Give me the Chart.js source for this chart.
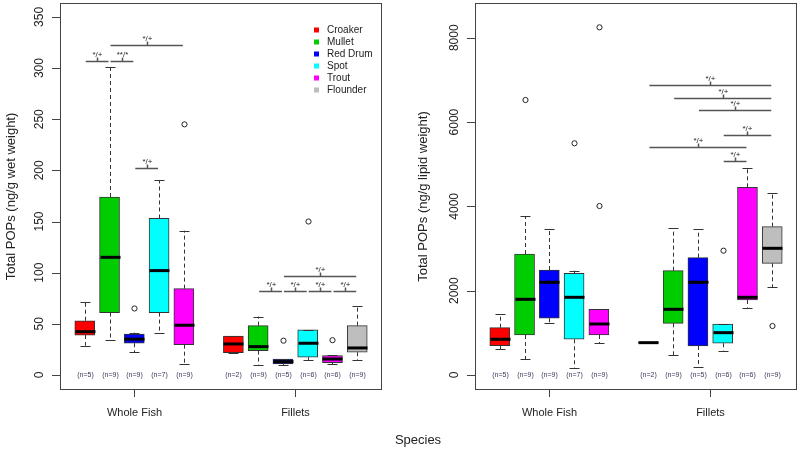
<!DOCTYPE html>
<html>
<head>
<meta charset="utf-8">
<script src="https://cdn.jsdelivr.net/npm/chart.js@4/dist/chart.umd.min.js"></script>
<style>
  html, body { margin: 0; padding: 0; background: #fff; }
  #wrap { position: relative; width: 800px; height: 453px; overflow: hidden; }
  #wrap canvas { position: absolute; top: 0; }
  #cWet { left: 0; }
  #cLip { left: 400px; }
  #species { position: absolute; left: 368px; width: 100px; top: 432px; text-align: center;
    font: 13px "Liberation Sans", Arial, sans-serif; color: #222; }
</style>
</head>
<body>
<div id="wrap">
  <canvas id="cWet" width="400" height="453"></canvas>
  <canvas id="cLip" width="400" height="453"></canvas>
  <div id="species">Species</div>
</div>
<script>
// ---- data ----
const species = ['Croaker', 'Mullet', 'Red Drum', 'Spot', 'Trout', 'Flounder'];
const speciesColors = ['#ff0000', '#00cd00', '#0000ff', '#00ffff', '#ff00ff', '#bebebe'];
const groups = ['Whole Fish', 'Fillets'];
const groupSlots = [3, 9.5];

// box positions (slot 6 is the gap between groups) and which species sits there
const slots = [1, 2, 3, 4, 5, 7, 8, 9, 10, 11, 12];
const slotSpecies = [0, 1, 2, 3, 4, 0, 1, 2, 3, 4, 5];
const nCounts = [5, 9, 9, 7, 9, 2, 9, 5, 6, 6, 9];

// wet weight (ng/g)
const wetTicks = [0, 50, 100, 150, 200, 250, 300, 350];
const wetLow  = [28.6, 34, 22, 40.7, 10.4, 21.8, 9.8, 9.8, 14.7, 10.4, 14.7];
const wetQ1   = [39, 61, 31, 61, 29.6, 21.8, 23.8, 10.7, 17.3, 12, 22.2];
const wetMed  = [42.3, 115, 35, 102, 48.6, 30.3, 27.7, 13, 31, 15.6, 26.4];
const wetQ3   = [53, 174, 40, 153, 84.4, 38, 48.2, 15.6, 44, 18.9, 48.2];
const wetHigh = [71.7, 301, 41.4, 190.6, 141, 38, 57, 15.6, 44, 19.5, 67.7];
const wetOut  = [[], [], [65], [], [245], [], [], [33.5], [150], [34], []];
const wetSigFrom  = [1, 2, 2, 3, 9, 8, 9, 10, 11];
const wetSigTo    = [2, 3, 5, 4, 12, 9, 10, 11, 12];
const wetSigY     = [307, 307, 323, 202.6, 97, 82.4, 82.4, 82.4, 82.4];
const wetSigLabel = ['*/+', '**/*', '*/+', '*/+', '*/+', '*/+', '*/+', '*/+', '*/+'];

// lipid weight (ng/g)
const lipTicks = [0, 2000, 4000, 6000, 8000];
const lipLow  = [617, 380, 1226, 174, 752, 760, 474, 182, 577, 1597, 2080];
const lipQ1   = [695, 949, 1345, 847, 949, 760, 1226, 688, 752, 1779, 2649];
const lipMed  = [847, 1795, 2199, 1843, 1210, 767, 1558, 2199, 1004, 1843, 3005];
const lipQ3   = [1122, 2870, 2490, 2412, 1558, 775, 2474, 2783, 1210, 4452, 3519];
const lipHigh = [1447, 3771, 3463, 2474, 1558, 775, 3479, 3456, 1210, 4903, 4310];
const lipOut  = [[], [6523], [], [5496], [4008, 8247], [], [], [], [2949], [], [1162]];
const lipSigFrom  = [7, 8, 9, 10, 7, 10];
const lipSigTo    = [12, 12, 12, 12, 11, 11];
const lipSigY     = [6879, 6577, 6286, 5693, 5401, 5083];
const lipSigLabel = ['*/+', '*/+', '*/+', '*/+', '*/+', '*/+'];

const FONT = '"Liberation Sans", Arial, sans-serif';
const BOX_W = 20;

// R-style boxplot extras: whiskers, medians, outliers, n labels, brackets, axes, legend
const rBox = {
  id: 'rBox',
  afterDatasetsDraw(chart, args, o) {
    const { ctx, chartArea: a, scales: { x, y } } = chart;
    const py = v => y.getPixelForValue(v);
    ctx.save();
    slots.forEach((s, i) => {
      const cx = Math.round(x.getPixelForValue(s)) + 0.5;
      // dashed whiskers
      ctx.strokeStyle = '#333';
      ctx.lineWidth = 1;
      ctx.setLineDash([4, 3]);
      ctx.beginPath();
      if (o.high[i] > o.q3[i]) { ctx.moveTo(cx, py(o.q3[i])); ctx.lineTo(cx, py(o.high[i])); }
      if (o.low[i] < o.q1[i]) { ctx.moveTo(cx, py(o.q1[i])); ctx.lineTo(cx, py(o.low[i])); }
      ctx.stroke();
      ctx.setLineDash([]);
      // staples
      ctx.beginPath();
      [o.low[i], o.high[i]].forEach(v => {
        const yy = Math.round(py(v)) + 0.5;
        ctx.moveTo(cx - BOX_W / 4, yy); ctx.lineTo(cx + BOX_W / 4, yy);
      });
      ctx.stroke();
      // median
      ctx.strokeStyle = '#000';
      ctx.lineWidth = 3;
      ctx.beginPath();
      ctx.moveTo(cx - BOX_W / 2, py(o.med[i]));
      ctx.lineTo(cx + BOX_W / 2, py(o.med[i]));
      ctx.stroke();
      // outliers
      ctx.lineWidth = 1;
      ctx.strokeStyle = '#222';
      o.out[i].forEach(v => {
        ctx.beginPath();
        ctx.arc(cx, py(v), 2.6, 0, Math.PI * 2);
        ctx.stroke();
      });
      // n labels
      ctx.fillStyle = '#3a3a5c';
      ctx.font = '7px ' + FONT;
      ctx.textAlign = 'center';
      ctx.textBaseline = 'middle';
      ctx.fillText('(n=' + nCounts[i] + ')', cx, py(0));
    });

    // significance brackets
    o.sigFrom.forEach((f, i) => {
      const x1 = x.getPixelForValue(f) + 1, x2 = x.getPixelForValue(o.sigTo[i]) - 1;
      const yy = Math.round(py(o.sigY[i])) + 0.5;
      const mx = Math.round(x.getPixelForValue((f + o.sigTo[i]) / 2)) + 0.5;
      ctx.strokeStyle = '#555';
      ctx.lineWidth = 1.5;
      ctx.beginPath();
      ctx.moveTo(x1, yy); ctx.lineTo(x2, yy);
      ctx.moveTo(mx, yy); ctx.lineTo(mx, yy - 4);
      ctx.stroke();
      ctx.fillStyle = '#222';
      ctx.font = '8px ' + FONT;
      ctx.textAlign = 'center';
      ctx.textBaseline = 'bottom';
      ctx.fillText(o.sigLabel[i], mx, yy - 3);
    });
    ctx.restore();
  },
  afterDraw(chart, args, o) {
    const { ctx, chartArea: a, scales: { x, y } } = chart;
    ctx.save();
    // frame
    ctx.strokeStyle = '#444';
    ctx.lineWidth = 1;
    ctx.strokeRect(a.left + 0.5, a.top + 0.5, a.right - a.left - 1, a.bottom - a.top - 1);
    // y axis ticks and rotated labels
    ctx.fillStyle = '#222';
    ctx.font = '12px ' + FONT;
    ctx.textAlign = 'center';
    ctx.textBaseline = 'middle';
    ctx.beginPath();
    o.ticks.forEach(t => {
      const yy = Math.round(y.getPixelForValue(t)) + 0.5;
      ctx.moveTo(a.left - 8, yy); ctx.lineTo(a.left, yy);
    });
    ctx.stroke();
    o.ticks.forEach(t => {
      ctx.save();
      ctx.translate(a.left - 20, y.getPixelForValue(t));
      ctx.rotate(-Math.PI / 2);
      ctx.fillText(String(t), 0, 0);
      ctx.restore();
    });
    // y title
    ctx.save();
    ctx.font = '13px ' + FONT;
    ctx.translate(o.titleX, (a.top + a.bottom) / 2);
    ctx.rotate(-Math.PI / 2);
    ctx.fillText(o.title, 0, 0);
    ctx.restore();
    // x axis group ticks and labels
    ctx.font = '11px ' + FONT;
    groupSlots.forEach((g, i) => {
      const gx = Math.round(x.getPixelForValue(g)) + 0.5;
      ctx.beginPath();
      ctx.moveTo(gx, a.bottom); ctx.lineTo(gx, a.bottom + 7);
      ctx.stroke();
      ctx.fillText(groups[i], gx, a.bottom + 23);
    });
    // legend
    if (o.legend) {
      ctx.font = '10px ' + FONT;
      ctx.textAlign = 'left';
      chart.data.datasets.forEach((ds, i) => {
        const ly = a.top + 27 + i * 12;
        ctx.fillStyle = ds.backgroundColor;
        ctx.fillRect(a.left + 254, ly - 2.5, 5, 5);
        ctx.fillStyle = '#222';
        ctx.fillText(ds.label, a.left + 267, ly);
      });
    }
    ctx.restore();
  }
};

function makeDatasets(q1, q3) {
  return species.map((name, s) => ({
    label: name,
    backgroundColor: speciesColors[s],
    borderColor: '#333',
    borderWidth: 1,
    borderSkipped: false,
    barThickness: BOX_W,
    grouped: false,
    data: slots
      .map((slot, i) => ({ slot, i }))
      .filter(d => slotSpecies[d.i] === s)
      .map(d => ({ x: d.slot, y: [q1[d.i], q3[d.i]] }))
  }));
}

function makeChart(id, q1, q3, yMin, yMax, pad, extra) {
  return new Chart(document.getElementById(id), {
    type: 'bar',
    data: { datasets: makeDatasets(q1, q3) },
    options: {
      responsive: false,
      animation: false,
      devicePixelRatio: 1,
      layout: { padding: pad },
      plugins: { legend: { display: false }, tooltip: { enabled: false }, rBox: extra },
      scales: {
        x: { type: 'linear', min: 0, max: 13, offset: false, display: false },
        y: { type: 'linear', min: yMin, max: yMax, display: false }
      }
    },
    plugins: [rBox]
  });
}

makeChart('cWet', wetQ1, wetQ3, -14.7, 363.6, { left: 60, right: 18, top: 3, bottom: 63 }, {
  low: wetLow, q3: wetQ3, q1: wetQ1, med: wetMed, high: wetHigh, out: wetOut,
  sigFrom: wetSigFrom, sigTo: wetSigTo, sigY: wetSigY, sigLabel: wetSigLabel,
  ticks: wetTicks, title: 'Total POPs (ng/g wet weight)', titleX: 11, legend: true
});

makeChart('cLip', lipQ1, lipQ3, -356, 8824, { left: 75, right: 3, top: 3, bottom: 63 }, {
  low: lipLow, q3: lipQ3, q1: lipQ1, med: lipMed, high: lipHigh, out: lipOut,
  sigFrom: lipSigFrom, sigTo: lipSigTo, sigY: lipSigY, sigLabel: lipSigLabel,
  ticks: lipTicks, title: 'Total POPs (ng/g lipid weight)', titleX: 23, legend: false
});
</script>
</body>
</html>
